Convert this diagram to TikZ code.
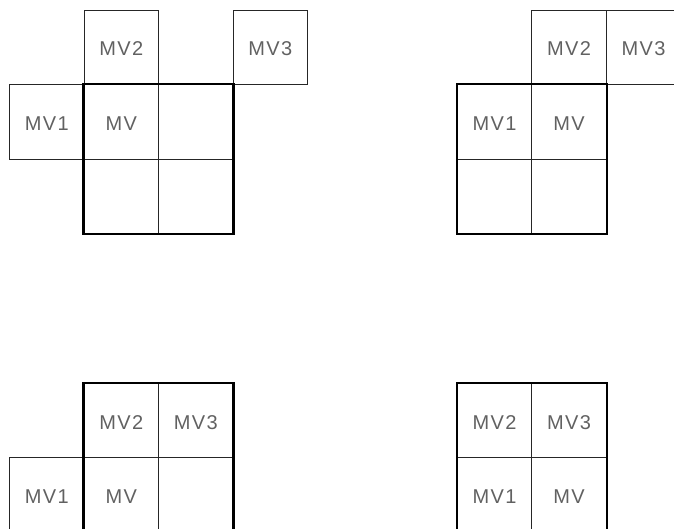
\documentclass[tikz,border=0pt]{standalone}
\usepackage{fontspec}
\setmainfont[LetterSpace=7]{Liberation Sans}
\begin{document}
\begin{tikzpicture}[x=1pt,y=-1pt,
  cell/.style={draw=black!85, line width=0.9pt, minimum width=74.5pt, minimum height=74.5pt,
    inner sep=0pt, text height=17.5pt, text depth=0pt,
    font=\fontsize{20}{22}\selectfont, text=black!62},
  bold/.style={draw=black, line width=2.2pt}]
\useasboundingbox (0,0) rectangle (674,529);
\clip (0,0) rectangle (674,529);
% Panel A (top-left)
\node[cell] (a2) at (121.25,47.25) {MV2};
\node[cell] (a3) at (270.25,47.25) {MV3};
\node[cell] (a1) at (46.75,121.75) {MV1};
\node[cell] (a0) at (121.25,121.75) {MV};
\node[cell] (ae1) at (195.75,121.75) {};
\node[cell] (ae2) at (121.25,196.25) {};
\node[cell] (ae3) at (195.75,196.25) {};
\draw[bold] (a0.north west) rectangle (ae3.south east);
% Panel B (top-right)
\node[cell] (b1) at (494.55,121.75) {MV1};
\node[cell] (b0) at (569.05,121.75) {MV};
\node[cell] (b2) at (569.05,47.25) {MV2};
\node[cell] (b3) at (643.55,47.25) {MV3};
\node[cell] (be1) at (494.55,196.25) {};
\node[cell] (be2) at (569.05,196.25) {};
\draw[bold] (b1.north west) rectangle (be2.south east);
% Panel C (bottom-left)
\node[cell] (c2) at (121.25,420.55) {MV2};
\node[cell] (c3) at (195.75,420.55) {MV3};
\node[cell] (c1) at (46.75,495.05) {MV1};
\node[cell] (c0) at (121.25,495.05) {MV};
\node[cell] (ce1) at (195.75,495.05) {};
\draw[bold] (c2.north west) rectangle (ce1.south east);
% Panel D (bottom-right)
\node[cell] (d2) at (494.55,420.55) {MV2};
\node[cell] (d3) at (569.05,420.55) {MV3};
\node[cell] (d1) at (494.55,495.05) {MV1};
\node[cell] (d0) at (569.05,495.05) {MV};
\draw[bold] (d2.north west) rectangle (d0.south east);
\end{tikzpicture}
\end{document}
